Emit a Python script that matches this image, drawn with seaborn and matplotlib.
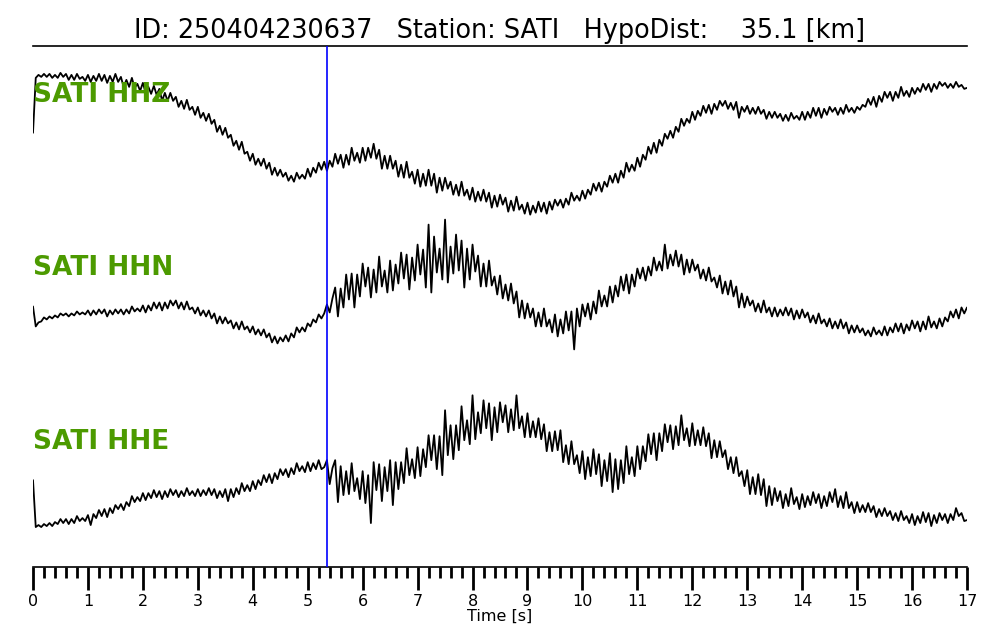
import numpy as np
import matplotlib
matplotlib.use("Agg")
import matplotlib.pyplot as plt
from matplotlib.ticker import MultipleLocator
import seaborn as sns

# --- event / station info ---
EVENT_ID = "250404230637"
STATION = "SATI"
HYPO_DIST_KM = 35.1
P_PICK_S = 5.35          # picked P arrival [s]
DT = 0.05                # sample interval [s]
CHANNELS = ["HHZ", "HHN", "HHE"]
COUNTS_PER_TRACE = 174   # counts that equal one trace spacing

# amplitudes (counts), one row = 0.5 s
hhz_counts = [
    0, 55, 58, 56, 59, 56, 59, 55, 58, 55,
    60, 56, 59, 53, 58, 53, 59, 54, 56, 52,
    58, 51, 57, 52, 59, 52, 58, 50, 57, 51,
    59, 51, 56, 46, 53, 46, 55, 45, 49, 42,
    50, 40, 46, 39, 47, 38, 44, 32, 40, 32,
    40, 32, 36, 26, 32, 24, 33, 23, 26, 18,
    26, 15, 20, 12, 19, 9, 13, 1, 7, -2,
    5, -5, -2, -13, -8, -17, -9, -21, -19, -28,
    -21, -32, -26, -33, -26, -36, -30, -42, -35, -43,
    -37, -44, -40, -48, -43, -49, -40, -46, -42, -46,
    -36, -44, -35, -40, -30, -37, -29, -38, -28, -34,
    -21, -31, -22, -35, -22, -32, -15, -28, -20, -30,
    -15, -28, -15, -25, -11, -26, -17, -36, -23, -36,
    -23, -36, -28, -44, -32, -45, -29, -45, -39, -51,
    -37, -54, -41, -53, -37, -53, -41, -60, -45, -58,
    -45, -56, -49, -62, -52, -63, -49, -63, -57, -67,
    -55, -69, -59, -68, -57, -69, -60, -75, -63, -74,
    -62, -72, -65, -79, -68, -78, -64, -77, -72, -81,
    -70, -82, -73, -80, -69, -79, -70, -81, -69, -77,
    -67, -73, -67, -75, -66, -72, -60, -68, -63, -68,
    -58, -66, -57, -62, -51, -58, -50, -59, -49, -54,
    -43, -50, -41, -50, -38, -45, -30, -39, -32, -38,
    -25, -34, -22, -27, -14, -21, -10, -20, -7, -13,
    -1, -6, 2, -5, 6, 1, 14, 7, 14, 10,
    21, 13, 22, 17, 27, 20, 28, 19, 29, 23,
    32, 27, 32, 24, 30, 23, 31, 15, 26, 21,
    27, 19, 25, 19, 26, 19, 23, 14, 21, 15,
    21, 15, 19, 12, 18, 12, 20, 14, 17, 13,
    21, 13, 21, 15, 25, 17, 25, 15, 24, 18,
    26, 21, 25, 18, 25, 19, 28, 21, 25, 20,
    26, 23, 28, 26, 34, 28, 36, 26, 37, 31,
    41, 35, 41, 32, 41, 35, 46, 37, 42, 36,
    45, 39, 45, 41, 49, 43, 49, 41, 49, 44,
    51, 47, 50, 45, 49, 45, 51, 46, 48, 44,
    45,
]

hhn_counts = [
    0, -20, -16, -15, -11, -13, -10, -12, -9, -11,
    -7, -9, -7, -10, -7, -9, -5, -8, -6, -8,
    -4, -9, -4, -8, -3, -7, -3, -10, -4, -8,
    -3, -7, -3, -8, -3, -7, 0, -5, -2, -5,
    1, -6, 1, -4, 4, -2, 4, -4, 4, -2,
    6, 1, 6, -2, 4, -3, 5, -3, -1, -7,
    -1, -9, -4, -10, -4, -12, -7, -17, -10, -17,
    -11, -17, -14, -22, -16, -23, -15, -23, -20, -26,
    -20, -28, -23, -29, -23, -31, -27, -36, -30, -37,
    -31, -35, -29, -35, -27, -31, -21, -26, -21, -25,
    -17, -20, -13, -16, -8, -12, -7, 2, -6, 8,
    19, -10, 18, -1, 32, 7, 33, -1, 32, 10,
    43, 20, 39, 9, 37, 14, 50, 20, 36, 14,
    46, 16, 42, 23, 54, 28, 52, 17, 49, 26,
    62, 32, 57, 19, 82, 14, 70, 34, 58, 27,
    87, 24, 60, 33, 72, 36, 66, 19, 58, 27,
    62, 35, 51, 20, 43, 20, 46, 21, 30, 12,
    31, 8, 22, 6, 23, 3, 15, -11, 6, -12,
    3, -11, -2, -20, -6, -20, -2, -20, -13, -26,
    -8, -30, -13, -27, -5, -24, -5, -43, -2, -20,
    2, -10, 3, -13, 5, -7, 16, 0, 11, 0,
    20, 4, 21, 10, 30, 16, 32, 13, 32, 20,
    38, 28, 39, 26, 40, 31, 49, 36, 45, 36,
    62, 38, 52, 41, 56, 40, 52, 32, 47, 34,
    47, 36, 42, 28, 37, 26, 39, 25, 29, 19,
    31, 13, 25, 12, 26, 10, 20, -1, 13, -1,
    10, 1, 6, -5, 3, -6, 6, -6, -1, -10,
    -1, -10, -3, -9, -1, -9, -2, -13, -4, -12,
    -3, -11, -6, -16, -9, -17, -7, -17, -13, -20,
    -12, -22, -15, -22, -13, -22, -16, -27, -19, -26,
    -19, -26, -22, -29, -24, -30, -21, -28, -24, -29,
    -20, -29, -21, -26, -17, -25, -17, -27, -18, -24,
    -14, -22, -15, -25, -15, -23, -10, -21, -15, -22,
    -12, -20, -11, -15, -5, -11, -3, -12, -1, -7,
    -1,
]

hhe_counts = [
    0, -47, -45, -47, -44, -46, -43, -46, -42, -44,
    -39, -43, -39, -44, -39, -43, -36, -41, -38, -41,
    -35, -45, -34, -38, -30, -36, -29, -37, -28, -33,
    -25, -29, -24, -30, -22, -26, -16, -22, -17, -21,
    -13, -20, -13, -18, -10, -17, -11, -19, -11, -17,
    -9, -15, -10, -17, -11, -16, -8, -15, -11, -16,
    -9, -16, -10, -15, -8, -15, -9, -18, -11, -17,
    -9, -21, -9, -17, -8, -14, -3, -11, -5, -11,
    -1, -9, 0, -5, 5, -2, 6, -3, 7, 1,
    11, 5, 11, 3, 12, 6, 17, 9, 14, 8,
    18, 9, 17, 11, 20, 11, 13, 20, -4, 12,
    20, -22, 14, -15, 9, -14, 17, -11, 2, -19,
    9, -23, 5, -43, 18, -10, 16, -21, 13, -11,
    20, -25, 18, -9, 18, -3, 32, 5, 21, 2,
    33, 4, 31, 13, 45, 20, 45, 11, 44, 5,
    70, 25, 55, 21, 55, 30, 74, 40, 60, 36,
    85, 41, 68, 47, 80, 52, 77, 40, 73, 48,
    78, 58, 75, 48, 71, 50, 85, 52, 64, 43,
    67, 43, 59, 43, 62, 41, 56, 29, 48, 29,
    49, 30, 50, 18, 35, 16, 39, 16, 25, 7,
    29, 1, 23, 4, 31, 6, 26, -6, 20, -1,
    27, -12, 21, -9, 20, -3, 34, 6, 23, 4,
    34, 11, 34, 19, 46, 26, 47, 20, 47, 29,
    56, 38, 55, 31, 54, 35, 65, 40, 52, 34,
    57, 35, 50, 35, 53, 34, 47, 22, 40, 23,
    39, 23, 30, 11, 23, 7, 23, 4, 9, -6,
    10, -14, 3, -14, 6, -15, 1, -26, -6, -25,
    -8, -21, -11, -28, -14, -26, -8, -24, -17, -29,
    -14, -27, -16, -25, -12, -23, -14, -28, -16, -26,
    -12, -22, -9, -27, -16, -28, -12, -28, -22, -33,
    -22, -32, -25, -32, -23, -32, -26, -37, -29, -36,
    -28, -36, -31, -40, -33, -41, -31, -40, -36, -43,
    -34, -45, -36, -43, -32, -42, -33, -46, -35, -43,
    -33, -40, -34, -43, -34, -40, -28, -36, -33, -41,
    -40,
]

TRACES = [hhz_counts, hhn_counts, hhe_counts]
LABEL_COLOR = "#4C9A00"


def main():
    sns.set_style("white")
    # seaborn greys the text; the reference is plain black
    plt.rcParams.update({
        "font.family": ["DejaVu Sans"],
        "text.color": "black",
        "axes.labelcolor": "black",
        "xtick.color": "black",
        "axes.edgecolor": "black",
    })

    fig = plt.figure(figsize=(10, 6.4), dpi=100)
    ax = fig.add_axes([0.033, 0.1141, 0.934, 0.8141])

    # one trace per channel, stacked with a spacing of 1
    for i, (ch, counts) in enumerate(zip(CHANNELS, TRACES)):
        t = np.arange(len(counts)) * DT
        y = -i + np.asarray(counts, dtype=float) / COUNTS_PER_TRACE
        sns.lineplot(x=t, y=y, ax=ax, color="black", lw=1.3,
                     estimator=None, sort=False)
        ax.text(0, -i + 0.18, f"{STATION} {ch}", color=LABEL_COLOR,
                fontsize=19, fontweight="bold", ha="left", va="baseline",
                zorder=6)

    # P pick
    ax.axvline(P_PICK_S, color="blue", lw=1.2, zorder=5)

    ax.set_xlim(0, 17)
    ax.set_ylim(-2.5, 0.5)
    ax.set_yticks([])
    ax.set_ylabel("")
    ax.xaxis.set_major_locator(MultipleLocator(1))
    ax.xaxis.set_minor_locator(MultipleLocator(0.2))
    ax.tick_params(axis="x", which="major", direction="out", length=16.5,
                   width=2, labelsize=11.5, pad=3, bottom=True,
                   colors="black")
    ax.tick_params(axis="x", which="minor", direction="out", length=8,
                   width=2, bottom=True, colors="black")
    for side in ("left", "right"):
        ax.spines[side].set_visible(False)
    for side in ("top", "bottom"):
        ax.spines[side].set_color("black")
        ax.spines[side].set_linewidth(1.2)

    ax.set_xlabel("Time [s]", fontsize=11.5, labelpad=0, color="black")
    ax.set_title(f"ID: {EVENT_ID}   Station: {STATION}   "
                 f"HypoDist: {HYPO_DIST_KM:7.1f} [km]", fontsize=18.4,
                 color="black")

    fig.savefig("out.png", dpi=100)


if __name__ == "__main__":
    main()
